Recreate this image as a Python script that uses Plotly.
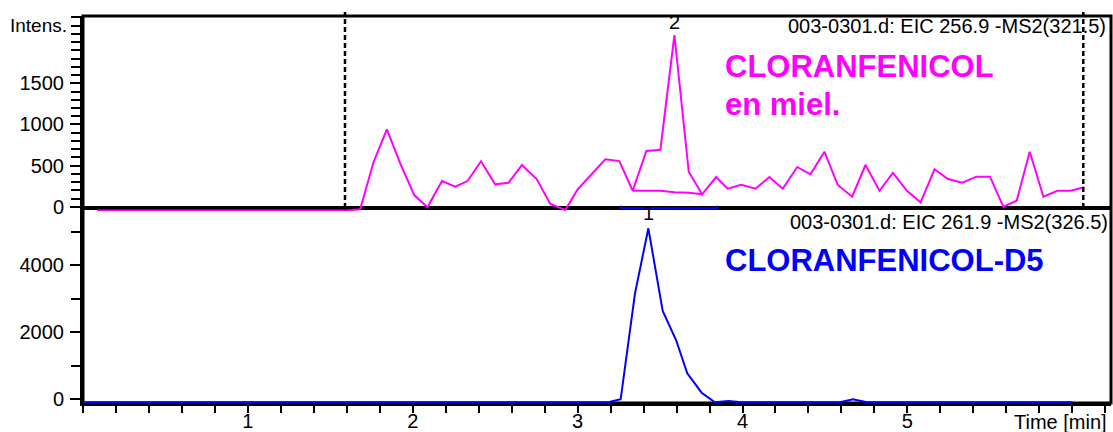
import plotly.graph_objects as go

# ---------------- data ----------------
# EIC 256.9 (CLORANFENICOL en miel) – time [min], intensity
eic1_time = [0.085, 1.600, 1.681, 1.762, 1.843, 1.924, 2.009, 2.089, 2.177, 2.258, 2.332,
             2.414, 2.500, 2.581, 2.662, 2.753, 2.834, 2.925, 3.000, 3.087, 3.168,
             3.253, 3.334, 3.417, 3.502, 3.587, 3.674, 3.755, 3.840, 3.910, 3.992,
             4.079, 4.163, 4.244, 4.332, 4.412, 4.497, 4.578, 4.665, 4.746, 4.831,
             4.912, 4.999, 5.080, 5.165, 5.246, 5.333, 5.418, 5.501, 5.582, 5.663,
             5.742, 5.825, 5.910, 5.991, 6.071]
eic1_int = [-45, -45, -32, 540, 941, 528, 142, -7, 312, 243, 312,
            552, 272, 292, 507, 333, 33, -40, 211, 397, 576,
            555, 194, 677, 693, 2087, 425, 151, 361, 219, 267,
            219, 361, 219, 483, 394, 669, 264, 122, 507, 194,
            410, 191, 53, 455, 337, 292, 365, 365, 0, 73,
            669, 122, 194, 194, 236]

# integration baseline under peak 2
peak2_bl_time = [3.334, 3.417, 3.502, 3.587, 3.674, 3.755]
peak2_bl_int = [194, 194, 194, 175, 170, 151]

# integration range of peak 1 shown on upper trace
peak1_range_time = [3.263, 3.263, 3.843, 3.843]
peak1_range_int = [12, -18, -18, 12]

# EIC 261.9 (CLORANFENICOL-D5)
eic2_time = [0.005, 3.186, 3.261, 3.348, 3.429, 3.516, 3.597, 3.665, 3.752, 3.833,
             3.914, 3.995, 4.591, 4.670, 4.755, 6.000]
eic2_int = [-99, -99, -9, 3162, 5107, 2633, 1765, 769, 188, -99,
            -60, -99, -99, -9, -99, -99]

# peak labels
peak_labels = ["1", "2"]
peak_label_time = [3.429, 3.587]

# dashed window lines (upper trace)
window_time = [1.589, 6.067]

# axis ticks
x_tick_vals = [1, 2, 3, 4, 5]
x_tick_text = ["1", "2", "3", "4", "5"]
y1_tick_vals = [0, 500, 1000, 1500]
y1_tick_text = ["0", "500", "1000", "1500"]
y2_tick_vals = [0, 2000, 4000]
y2_tick_text = ["0", "2000", "4000"]

title1 = "003-0301.d: EIC 256.9 -MS2(321.5)"
title2 = "003-0301.d: EIC 261.9 -MS2(326.5)"

# ---------------- figure ----------------
FONT = "Liberation Sans, Arial, sans-serif"
MAG = "#FF00FF"
BLUE = "#0000FF"

fig = go.Figure()
fig.add_trace(go.Scatter(x=eic1_time, y=eic1_int, mode="lines",
                         line=dict(color=MAG, width=2), xaxis="x", yaxis="y",
                         showlegend=False, hoverinfo="skip"))
fig.add_trace(go.Scatter(x=peak2_bl_time, y=peak2_bl_int, mode="lines",
                         line=dict(color=MAG, width=2), xaxis="x", yaxis="y",
                         showlegend=False, hoverinfo="skip"))
fig.add_trace(go.Scatter(x=peak1_range_time, y=peak1_range_int, mode="lines",
                         line=dict(color=BLUE, width=2), xaxis="x", yaxis="y",
                         showlegend=False, hoverinfo="skip"))
fig.add_trace(go.Scatter(x=eic2_time, y=eic2_int, mode="lines",
                         line=dict(color=BLUE, width=2), xaxis="x", yaxis="y2",
                         showlegend=False, hoverinfo="skip"))

H_PLOT = 387.0
def py(p):
    return (403.0 - p) / H_PLOT
def px(p):
    return (p - 83.0) / 1028.0

tickfont = dict(family=FONT, size=20, color="black")

fig.update_layout(
    width=1113, height=432,
    margin=dict(l=83, r=2, t=16, b=29, pad=0, autoexpand=False),
    paper_bgcolor="white", plot_bgcolor="rgba(0,0,0,0)",
    showlegend=False,
    xaxis=dict(domain=[0, 1], range=[0, 6.235], anchor="y2", automargin=False,
               showline=True, linewidth=3, linecolor="black",
               ticks="outside", ticklen=7, tickwidth=2, tickcolor="black",
               tickmode="array", tickvals=x_tick_vals, ticktext=x_tick_text,
               tickfont=tickfont, showgrid=False, zeroline=False,
               ticklabelstandoff=-9,
               layer="below traces",
               minor=dict(tick0=0, dtick=0.2, ticks="outside", ticklen=7,
                          tickwidth=2, tickcolor="black", showgrid=False)),
    yaxis=dict(domain=[0.4961, 1], range=[-52, 2318], anchor="x", automargin=False,
               showline=True, linewidth=3, linecolor="black",
               ticks="outside", ticklen=10, tickwidth=2, tickcolor="black",
               tickmode="array", tickvals=y1_tick_vals, ticktext=y1_tick_text,
               tickfont=tickfont, showgrid=False, zeroline=False,
               ticklabelstandoff=2,
               minor=dict(tick0=0, dtick=100, ticks="outside", ticklen=9,
                          tickwidth=2, tickcolor="black", showgrid=False)),
    yaxis2=dict(domain=[0, 0.4961], range=[-120, 5625], anchor="x", automargin=False,
                showline=True, linewidth=3, linecolor="black",
                ticks="outside", ticklen=10, tickwidth=2, tickcolor="black",
                tickmode="array", tickvals=y2_tick_vals, ticktext=y2_tick_text,
                tickfont=tickfont, showgrid=False, zeroline=False,
                ticklabelstandoff=2,
                minor=dict(tick0=0, dtick=1000, ticks="outside", ticklen=9,
                           tickwidth=2, tickcolor="black", showgrid=False)),
)

shapes = [
    # frame
    dict(type="rect", xref="paper", yref="paper", x0=0, x1=1, y0=0, y1=1,
         line=dict(color="black", width=3), layer="below"),
    # separator between panels
    dict(type="line", xref="paper", yref="paper", x0=0, x1=1, y0=py(208), y1=py(208),
         line=dict(color="black", width=4), layer="below"),
]
for t in window_time:
    shapes.append(dict(type="line", xref="x", yref="paper", x0=t, x1=t,
                       y0=py(208), y1=py(12),
                       line=dict(color="black", width=2.5, dash="5px,3px"), layer="above"))
fig.update_layout(shapes=shapes)

ann = []
ann.append(dict(text="Intens.", xref="paper", yref="paper", x=px(69), y=py(25),
                xanchor="right", yanchor="middle", showarrow=False,
                font=dict(family=FONT, size=19, color="black")))
ann.append(dict(text=title1, xref="paper", yref="paper", x=px(1108), y=py(26),
                xanchor="right", yanchor="middle", showarrow=False,
                font=dict(family=FONT, size=20, color="black")))
ann.append(dict(text=title2, xref="paper", yref="paper", x=px(1109.5), y=py(221.7),
                xanchor="right", yanchor="middle", showarrow=False,
                font=dict(family=FONT, size=20, color="black")))
ann.append(dict(text="<b>CLORANFENICOL</b>", xref="paper", yref="paper", x=px(723), y=py(66.5),
                xanchor="left", yanchor="middle", showarrow=False,
                font=dict(family=FONT, size=31, color=MAG)))
ann.append(dict(text="<b>en miel.</b>", xref="paper", yref="paper", x=px(723), y=py(104),
                xanchor="left", yanchor="middle", showarrow=False,
                font=dict(family=FONT, size=31, color=MAG)))
ann.append(dict(text="<b>CLORANFENICOL-D5</b>", xref="paper", yref="paper", x=px(723), y=py(260),
                xanchor="left", yanchor="middle", showarrow=False,
                font=dict(family=FONT, size=31, color=BLUE)))
ann.append(dict(text="Time [min]", xref="paper", yref="paper", x=px(1109), y=py(421.5),
                xanchor="right", yanchor="middle", showarrow=False,
                font=dict(family=FONT, size=20, color="black")))
# peak labels
ann.append(dict(text=peak_labels[0], xref="x", yref="y2", x=peak_label_time[0], y=5625,
                xanchor="center", yanchor="top", yshift=11, showarrow=False,
                font=dict(family=FONT, size=20, color="black")))
ann.append(dict(text=peak_labels[1], xref="x", yref="y", x=peak_label_time[1], y=max(eic1_int),
                xanchor="center", yanchor="bottom", yshift=0, showarrow=False,
                font=dict(family=FONT, size=20, color="black")))
fig.update_layout(annotations=ann)

fig.write_html("out.html")
